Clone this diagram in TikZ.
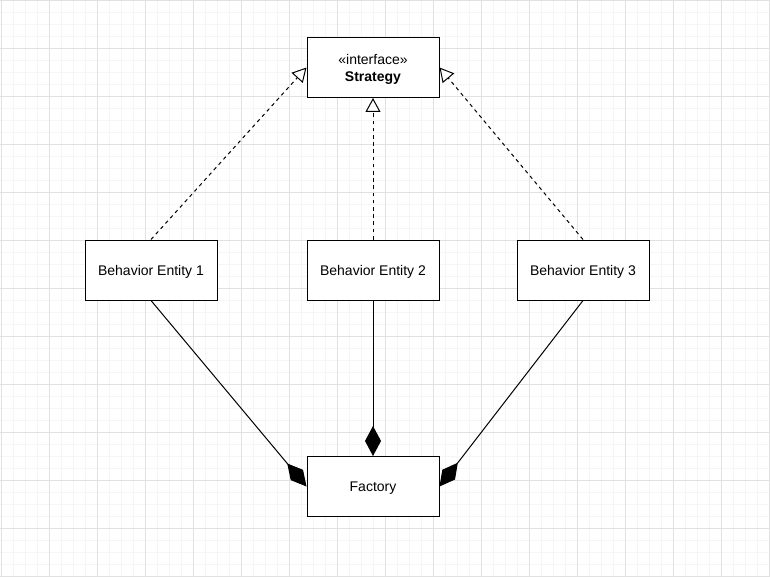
\documentclass[tikz,border=0pt]{standalone}
\usepackage{fontspec}
\setmainfont{Liberation Sans}
\usetikzlibrary{arrows.meta}
\definecolor{gridminor}{HTML}{F5F5F5}
\definecolor{gridmajor}{HTML}{E1E1E1}
\definecolor{boxline}{HTML}{000000}
\begin{document}
\begin{tikzpicture}[x=1pt, y=-1pt, font=\fontsize{14}{17}\selectfont,
    umlbox/.style={draw=boxline, fill=white, line width=1pt, text depth=0pt,
                   minimum width=132pt, minimum height=60pt, align=center, inner sep=0pt},
    realize/.style={draw=boxline, line width=1pt, dash pattern=on 3.6pt off 3.6pt,
                    -{Triangle[open, length=14pt, width=15pt, fill=white]}},
    compose/.style={draw=boxline, line width=1pt, -{Diamond[length=30pt, width=16pt]}}]
    % background and grid
    \useasboundingbox (0,0) rectangle (770,577);
    \fill[white] (0,0) rectangle (770,577);
    \foreach \gx in {0,...,64} \draw[gridminor, line width=1pt] ({1.3+12*\gx},0) -- ({1.3+12*\gx},577);
    \foreach \gy in {0,...,48} \draw[gridminor, line width=1pt] (0,{0.3+12*\gy}) -- (770,{0.3+12*\gy});
    \foreach \gx in {0,...,16} \draw[gridmajor, line width=1pt] ({1.3+48*\gx},0) -- ({1.3+48*\gx},577);
    \foreach \gy in {0,...,12} \draw[gridmajor, line width=1pt] (0,{0.3+48*\gy}) -- (770,{0.3+48*\gy});
    % classes
    \node[umlbox] (strat) at (373,67.5) {«interface»\\\textbf{Strategy}};
    \node[umlbox] (be1) at (151,270) {Behavior Entity 1};
    \node[umlbox] (be2) at (373,270) {Behavior Entity 2};
    \node[umlbox] (be3) at (583,270) {Behavior Entity 3};
    \node[umlbox] (fac) at (373,486.5) {Factory};
    % relations
    \foreach \s/\t in {be1/strat.west, be2/strat.south, be3/strat.east} \draw[realize] (\s.north) -- (\t);
    \foreach \s/\t in {be1/fac.west, be2/fac.north, be3/fac.east} \draw[compose] (\s.south) -- (\t);
\end{tikzpicture}
\end{document}
